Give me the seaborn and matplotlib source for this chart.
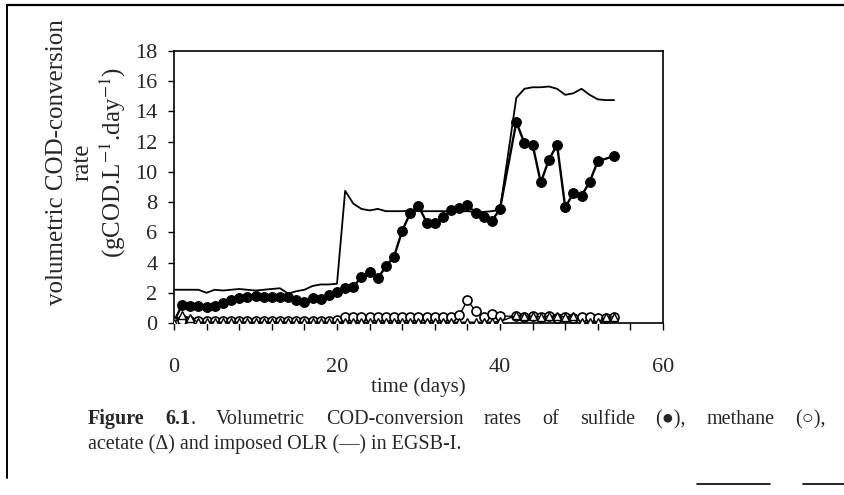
import matplotlib
matplotlib.use("Agg")
import matplotlib.pyplot as plt
from matplotlib.ticker import MultipleLocator
from matplotlib.lines import Line2D
import pandas as pd
import seaborn as sns

# ---------------- data ----------------
olr_days = list(range(0, 41)) + [42, 43, 44, 45, 46, 47, 48, 49, 50, 51, 52, 53, 54]
olr_vals = [2.2, 2.2, 2.2, 2.2, 2.0, 2.2, 2.15, 2.2, 2.25, 2.2,
            2.15, 2.2, 2.25, 2.3, 1.95, 2.1, 2.2, 2.45, 2.55, 2.55,
            2.6, 8.75, 7.9, 7.55, 7.45, 7.55, 7.4, 7.4, 7.4, 7.45,
            7.4, 7.4, 7.4, 7.4, 7.4, 7.4, 7.4, 7.35, 7.35, 7.4,
            7.5,
            14.9, 15.5, 15.6, 15.6, 15.65, 15.5, 15.1, 15.2, 15.5, 15.1, 14.8, 14.75, 14.75]

sulfide_days = list(range(0, 41)) + [42, 43, 44, 45, 46, 47, 48, 49, 50, 51, 52, 54]
sulfide_vals = [0.1, 1.2, 1.15, 1.1, 1.05, 1.1, 1.3, 1.5, 1.65, 1.75,
                1.8, 1.7, 1.75, 1.7, 1.75, 1.55, 1.4, 1.65, 1.6, 1.85,
                2.05, 2.3, 2.4, 3.05, 3.4, 2.95, 3.75, 4.4, 6.1, 7.3,
                7.75, 6.65, 6.65, 7.0, 7.45, 7.6, 7.8, 7.3, 7.0, 6.75,
                7.55,
                13.3, 11.9, 11.8, 9.3, 10.8, 11.8, 7.65, 8.6, 8.4, 9.35, 10.7, 11.05]

methane_days = list(range(0, 41)) + [42, 43, 44, 45, 46, 47, 48, 49, 50, 51, 52, 53, 54]
methane_vals = [0.05, 0.2, 0.15, 0.15, 0.15, 0.15, 0.15, 0.15, 0.15, 0.15,
                0.15, 0.15, 0.15, 0.15, 0.15, 0.15, 0.15, 0.15, 0.15, 0.15,
                0.2, 0.4, 0.4, 0.4, 0.4, 0.4, 0.4, 0.4, 0.4, 0.4,
                0.4, 0.4, 0.4, 0.4, 0.4, 0.5, 1.5, 0.8, 0.4, 0.6,
                0.45,
                0.45, 0.4, 0.45, 0.4, 0.45, 0.35, 0.4, 0.35, 0.4, 0.4, 0.35, 0.3, 0.4]

acetate_days = list(range(0, 41)) + [42, 43, 44, 45, 46, 47, 48, 49, 50, 51, 52, 53, 54]
acetate_vals = [0.0, 0.55, 0.3, 0.05, 0.05, 0.05, 0.05, 0.05, 0.05, 0.05,
                0.05, 0.05, 0.05, 0.05, 0.05, 0.05, 0.05, 0.05, 0.05, 0.05,
                0.05, 0.05, 0.05, 0.05, 0.05, 0.05, 0.05, 0.05, 0.05, 0.05,
                0.05, 0.05, 0.05, 0.05, 0.05, 0.05, 0.05, 0.05, 0.05, 0.05,
                0.1,
                0.5, 0.45, 0.45, 0.4, 0.45, 0.45, 0.4, 0.45, 0.05, 0.05, 0.05, 0.4, 0.4]

x_ticks = [0, 20, 40, 60]
y_ticks = [0, 2, 4, 6, 8, 10, 12, 14, 16, 18]

ylabel_text = "volumetric COD-conversion\nrate\n(gCOD.L$^{-1}$.day$^{-1}$)"
xlabel_text = "time (days)"

# ---------------- style ----------------
sns.set_style("ticks")
plt.rcParams["font.family"] = ["Liberation Serif", "DejaVu Serif"]
plt.rcParams["mathtext.fontset"] = "stix"

W, H = 845, 495
fig = plt.figure(figsize=(W / 100, H / 100), dpi=100)
fig.patch.set_facecolor("white")
ax = fig.add_axes([174 / W, 1 - 323 / H, (663 - 174) / W, (323 - 51) / H])
ax.set_facecolor("white")

sns.lineplot(x=olr_days, y=olr_vals, ax=ax, color="black", linewidth=1.3,
             estimator=None, sort=False, zorder=2)
sns.lineplot(x=sulfide_days, y=sulfide_vals, ax=ax, color="black", linewidth=1.7,
             marker="o", markersize=7.0, markerfacecolor="black",
             markeredgecolor="black", markeredgewidth=0.8,
             estimator=None, sort=False, zorder=3)
sns.lineplot(x=methane_days, y=methane_vals, ax=ax, color="black", linewidth=1.0,
             marker="o", markersize=6.5, markerfacecolor="white",
             markeredgecolor="black", markeredgewidth=1.2,
             estimator=None, sort=False, zorder=4)
sns.lineplot(x=acetate_days, y=acetate_vals, ax=ax, color="black", linewidth=1.0,
             marker="^", markersize=5.5, markerfacecolor="white",
             markeredgecolor="black", markeredgewidth=1.0,
             estimator=None, sort=False, zorder=5)

ax.set_xlim(0, 60)
ax.set_ylim(0, 18)
ax.set_xticks(x_ticks)
ax.set_yticks(y_ticks)
ax.xaxis.set_minor_locator(MultipleLocator(4))
ax.set_xlabel("")
ax.set_ylabel("")
for sp in ax.spines.values():
    sp.set_visible(True)
    sp.set_color("black")
    sp.set_linewidth(1.2)
ax.tick_params(axis="both", which="both", direction="out", color="black", width=1.0)
ax.tick_params(axis="x", which="major", length=5, labelsize=16, pad=20)
ax.tick_params(axis="x", which="minor", length=5)
ax.tick_params(axis="y", which="major", length=4, labelsize=16, pad=8)
ax.grid(False)

fig.text(87 / W, 1 - 162 / H, ylabel_text, rotation=90, ha="center", va="center",
         multialignment="center", linespacing=1.2, fontsize=18)
fig.text(418 / W, 1 - 387 / H, xlabel_text, ha="center", va="center", fontsize=15)

# ---------------- caption (justified first line) ----------------
cap_size = 14.5
renderer = fig.canvas.get_renderer()
line1 = [[("Figure", "bold")], [("6.1", "bold"), (".", "normal")],
         [("Volumetric", "normal")], [("COD-conversion", "normal")],
         [("rates", "normal")], [("of", "normal")], [("sulfide", "normal")],
         [("(\u25cf),", "normal")], [("methane", "normal")], [("(\u25cb),", "normal")]]
line2 = "acetate (\u0394) and imposed OLR (\u2014) in EGSB-I."


def seg_width(s, wt):
    t = fig.text(0, 0, s, fontsize=cap_size, fontweight=wt)
    w = t.get_window_extent(renderer).width
    t.remove()
    return w


x_start, x_end = 88, 826
widths = [sum(seg_width(s, wt) for s, wt in word) for word in line1]
gap = (x_end - x_start - sum(widths)) / (len(line1) - 1)
xpos = x_start
base1 = 1 - 424 / H
for word, wd in zip(line1, widths):
    xx = xpos
    for s, wt in word:
        fig.text(xx / W, base1, s, fontsize=cap_size, fontweight=wt,
                 ha="left", va="baseline")
        xx += seg_width(s, wt)
    xpos += wd + gap
fig.text(x_start / W, 1 - 449 / H, line2, fontsize=cap_size, ha="left", va="baseline")

# ---------------- frame lines ----------------
fig.add_artist(Line2D([7 / W, 1.0], [1 - 5 / H, 1 - 5 / H], transform=fig.transFigure,
                      color="black", linewidth=1.6))
fig.add_artist(Line2D([7 / W, 7 / W], [1 - 5 / H, 1 - 478 / H], transform=fig.transFigure,
                      color="black", linewidth=1.4))
fig.add_artist(Line2D([697 / W, 770 / W], [1 - 484 / H, 1 - 484 / H], transform=fig.transFigure,
                      color="black", linewidth=1.2))
fig.add_artist(Line2D([803 / W, 1.0], [1 - 484 / H, 1 - 484 / H], transform=fig.transFigure,
                      color="black", linewidth=1.2))

fig.savefig("out.png", dpi=100, facecolor="white")
